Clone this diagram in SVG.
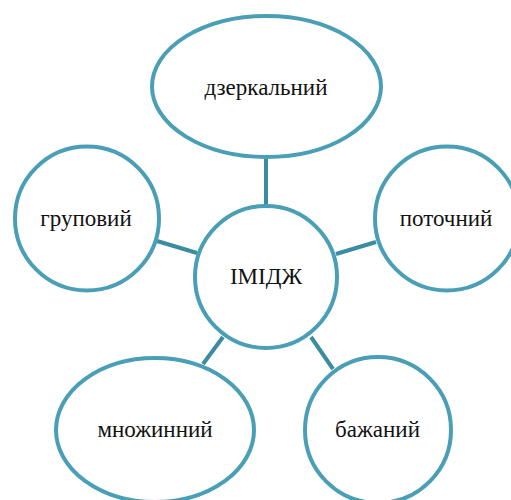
<svg xmlns="http://www.w3.org/2000/svg" width="511" height="500" viewBox="0 0 511 500">
<style>
.n{fill:#fff;stroke:#4a9fb6;stroke-width:4}
.c line{stroke:#3b8c9e;stroke-width:4;stroke-linecap:butt}
text{font-family:"Liberation Serif","Times New Roman",serif;font-size:23px;fill:#111;text-anchor:middle}
</style>
<rect width="511" height="500" fill="#fff"/>
<g id="connectors" class="c">
<line x1="266" y1="159" x2="266" y2="205"/>
<line x1="157" y1="241" x2="197" y2="253"/>
<line x1="336" y1="254" x2="376" y2="242"/>
<line x1="223" y1="337" x2="203" y2="364"/>
<line x1="311" y1="337" x2="333" y2="369"/>
</g>
<g id="node-mirror"><ellipse class="n" cx="266.5" cy="86.5" rx="114.5" ry="70.5"/><text x="266" y="95">дзеркальний</text></g>
<g id="node-group"><circle class="n" cx="87" cy="218.5" r="72"/><text x="86" y="226">груповий</text></g>
<g id="node-current"><circle class="n" cx="447" cy="218.5" r="72"/><text x="446" y="226">поточний</text></g>
<g id="node-image"><circle class="n" cx="266" cy="277" r="71"/><text x="266" y="284">ІМІДЖ</text></g>
<g id="node-multiple"><ellipse class="n" cx="155" cy="430" rx="99" ry="72"/><text x="155" y="437">множинний</text></g>
<g id="node-desired"><circle class="n" cx="378" cy="430" r="73"/><text x="377.5" y="437">бажаний</text></g>
</svg>
